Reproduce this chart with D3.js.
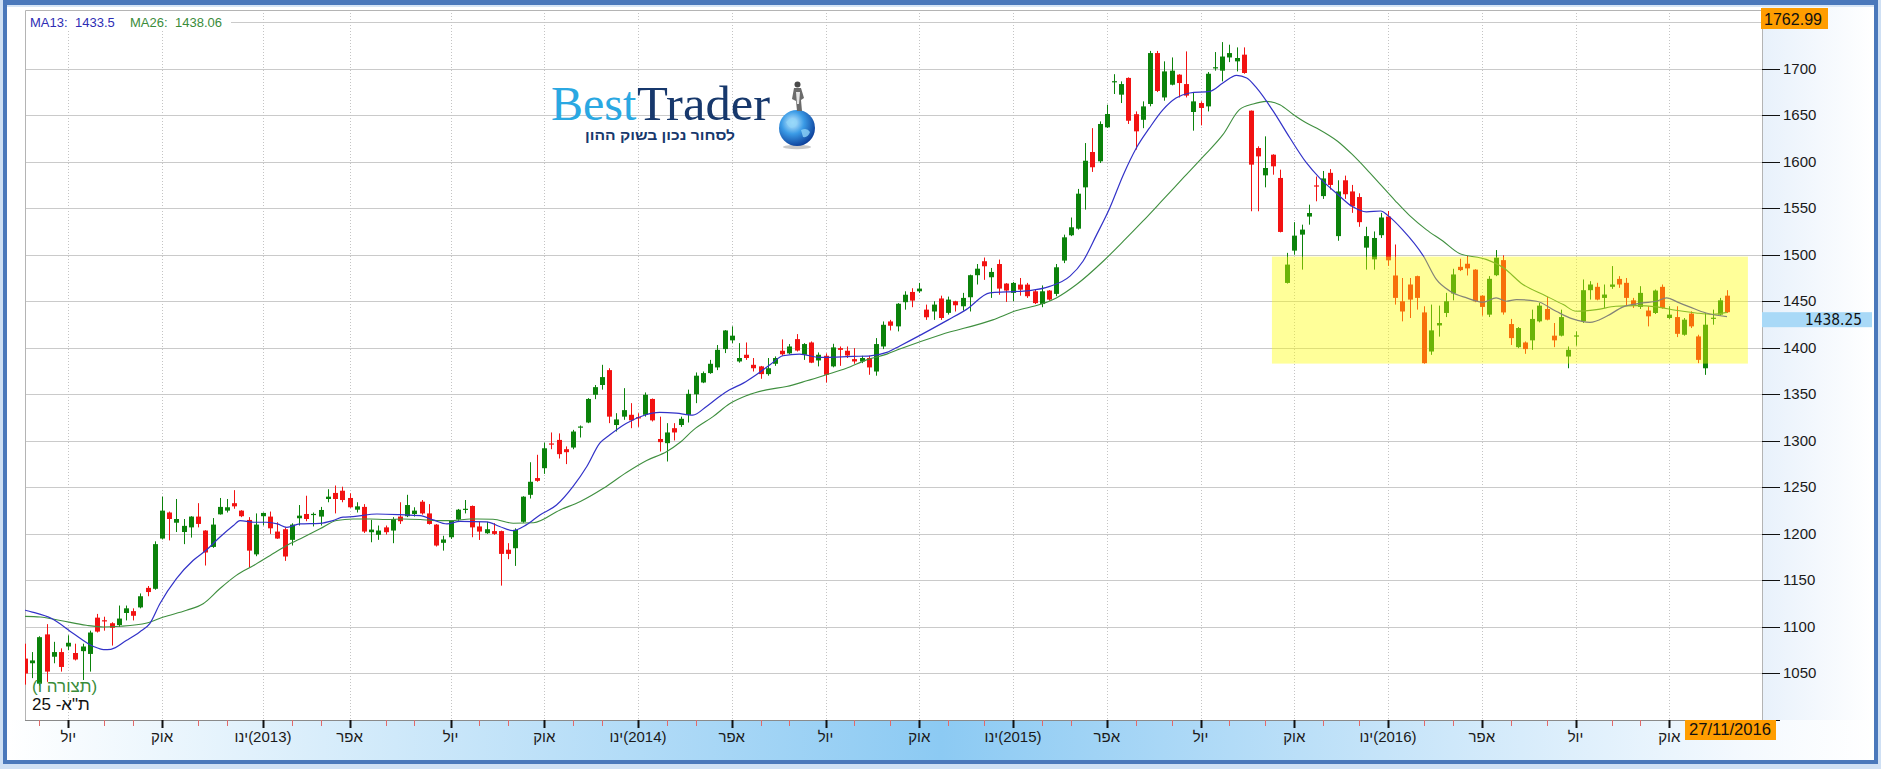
<!DOCTYPE html>
<html><head><meta charset="utf-8">
<script src="https://cdn.jsdelivr.net/npm/d3@7"></script>
<style>
html,body{margin:0;padding:0;background:#fff;}
svg{display:block;}
text{font-family:"Liberation Sans",Arial,sans-serif;}
.narrow{font-family:"Liberation Sans Narrow","Arial Narrow","Liberation Sans",sans-serif;}
.serif{font-family:"Liberation Serif","Times New Roman",serif;}
.dejavu{font-family:"DejaVu Sans",sans-serif;}
.visual{unicode-bidi:bidi-override;direction:ltr;}
</style></head><body>
<svg id="chart" width="1881" height="769"></svg>
<script>
// ---------------- DATA ----------------
const firstWeek = [2012, 4, 20];       // Sunday 20/05/2012, weekly candles
const lastDateLabel = "27/11/2016";
const topValue = 1762.99;
const lastClose = 1438.25;
const ma13Label = "1433.5";
const ma26Label = "1438.06";
// written in visual (left-to-right) glyph order, drawn with bidi override
const instrumentVisual = "25 -א\"ת";
const formationVisual = "(ו הרוצת)";

// weekly candles [open, high, low, close]
const ohlc = [
 [1066,1082,1038,1050],[1061,1073,1045,1064],[1039,1090,1037,1089],[1092,1103,1041,1052],[1068,1084,1061,1073],
 [1073,1077,1052,1057],[1079,1091,1075,1083],[1072,1082,1064,1065],[1074,1082,1043,1079],[1071,1096,1052,1094],
 [1110,1114,1094,1095],[1107.2,1111,1096,1106.8],[1104,1105,1080,1099],[1102,1123,1100,1109],[1115,1123,1107,1120],
 [1117,1120,1107,1112],[1121,1136,1120,1133],[1142,1144,1133,1137.5],[1141,1192,1140,1189],[1195,1240,1194,1225],
 [1223,1224,1193,1216],[1212,1237.5,1202,1216],[1202,1216,1189,1208.6],[1207,1219,1196,1218.6],[1218.6,1233,1207,1210.7],
 [1203.6,1204,1166,1180],[1186,1217,1185,1210],[1221,1238.6,1220.7,1229],[1225,1237.5,1223,1228.6],[1233,1247,1227,1229.6],
 [1225,1225.5,1218,1219],[1215,1218,1164,1182],[1178,1222,1176,1210],[1219,1223,1209,1222.5],[1218.6,1224,1200,1206],
 [1202.5,1212.5,1194.6,1195],[1205,1207,1171,1175.7],[1193.6,1211.4,1187.5,1210],[1216.8,1231,1209,1219.6],[1221.4,1241,1213.6,1216],
 [1221,1223,1208,1221.5],[1218.6,1229,1209,1225.7],[1237.5,1248,1234,1240],[1244,1252,1222,1237.5],[1246.4,1250.7,1234,1236.4],
 [1238.6,1243.6,1228,1228.6],[1226,1234,1223,1229.6],[1229,1232,1201,1202.5],[1201.8,1215,1191,1204.6],[1199,1209,1193.6,1203.6],
 [1207,1209,1199.3,1201.8],[1203.6,1218,1190,1216],[1218.6,1234,1210.7,1213.6],[1219,1242,1218,1231],[1221.4,1228.6,1218.6,1225],
 [1234.6,1236.4,1220.7,1222],[1222,1232,1210,1210.7],[1210,1210.5,1186.4,1187.5],[1190.4,1198,1182,1194],[1196.4,1214.5,1194.6,1214.3],
 [1215.4,1226.8,1214,1226],[1226.8,1236.4,1222,1227],[1230,1230.5,1196.4,1207],[1208,1213,1193.5,1202.5],[1200.7,1213,1200,1205],
 [1203,1211.5,1199,1200],[1203,1203.5,1144.4,1178.5],[1183,1190,1172.8,1178.5],[1184.6,1206,1165.6,1204.3],[1213,1240.5,1212,1240],
 [1242,1277,1238,1256],[1260,1285,1256,1257],[1270.6,1298,1264.5,1292],[1297.2,1309,1291,1296.8],[1301,1308,1281,1285.7],
 [1291,1294,1275,1287.8],[1292.8,1311.8,1291,1310],[1315,1316.5,1303.6,1315.4],[1319.7,1345.9,1319,1345],[1349.5,1360,1344.8,1357.7],
 [1360,1381.7,1355,1368.5],[1376,1378,1319,1326],[1317,1329.7,1310,1323],[1326,1356.6,1322.6,1333],[1328,1340.5,1313.6,1322],
 [1325.4,1329.7,1315,1325],[1328,1352,1326,1349.5],[1345,1345.5,1320.8,1322],[1302,1326,1288.5,1298.6],[1297.5,1319,1277.8,1309],
 [1313.6,1319,1300.4,1309],[1317,1326,1315,1323.7],[1328,1355,1319.7,1350.5],[1350,1373.5,1340.5,1370],[1362.7,1374.5,1362,1372.8],
 [1372.8,1387,1372,1382.8],[1378.9,1403,1376,1397.8],[1398.6,1419,1394.3,1418.6],[1408,1423,1405,1413],[1385.3,1405,1384,1389],
 [1392.5,1405.7,1387,1389],[1381.7,1389,1374.5,1378],[1380,1380.5,1366.7,1371.7],[1371.7,1389,1370,1378],[1382.8,1390.7,1380.6,1389],
 [1396.8,1409,1391.4,1393],[1394,1404,1393,1401.4],[1409.3,1414.7,1396,1397],[1392.5,1405,1387,1404],[1405.7,1406.8,1383.5,1384],
 [1386.4,1395,1380,1392.5],[1391.4,1394,1362.7,1371],[1380,1404.3,1379,1400.4],[1399.6,1401.4,1380.6,1397.8],[1396.8,1401.4,1389,1391.7],
 [1387.8,1399.6,1382.8,1385.3],[1385.3,1391.4,1383.5,1389],[1389,1391.4,1371,1378.9],[1374.5,1410.4,1370,1404],[1401.4,1428.3,1398.6,1424.7],
 [1428.3,1430,1418.6,1423.7],[1423,1448,1417.6,1447.3],[1449,1460.7,1441,1457],[1460,1464,1443.6,1450.7],[1460.7,1469.7,1459,1463.6],
 [1441,1446.4,1430,1432.8],[1439,1450,1430,1446.4],[1453,1456,1430,1432],[1437.5,1455,1435.7,1451.8],[1450,1450.5,1439,1445.7],
 [1444.6,1459,1440,1453.6],[1454.3,1478.6,1439,1478],[1478,1490,1468,1485],[1493,1497,1473,1487.6],[1475.8,1485.8,1453.6,1481.5],
 [1490,1494.8,1457,1463.6],[1469,1469.5,1449.3,1461.5],[1459,1470.8,1450,1469.7],[1467.9,1475,1456,1462.5],[1467.9,1469.7,1453.6,1455.4],
 [1460.7,1462.5,1447,1448],[1447,1467,1443.6,1460.7],[1461.5,1462,1450.7,1451.8],[1457.9,1490,1455.4,1486.5],[1493.7,1521.6,1491,1518.7],
 [1520.9,1540,1520,1529.5],[1528,1570.7,1527,1565.6],[1572.4,1620,1548.5,1601],[1610.4,1636,1589,1594],[1600.4,1643.3,1598.6,1640.5],
 [1636.9,1661.2,1636.2,1651.2],[1686,1694,1672.7,1686.5],[1672,1686.3,1663,1683.4],[1690,1690.6,1640.5,1644],[1651,1654,1613,1632.6],
 [1645,1664.8,1636,1659.4],[1662,1719,1659.5,1716.7],[1716.7,1719,1674.8,1676],[1669,1707.8,1665.5,1697],[1682.7,1712,1682,1697.8],
 [1693.5,1694,1669,1684.5],[1683.4,1718.5,1669,1671],[1653.4,1674.8,1633.3,1664.8],[1663,1664.8,1639,1657.7],[1659.4,1696.3,1654,1694.5],
 [1701.3,1717.8,1697.8,1701.5],[1697.8,1728.5,1686.3,1713],[1712,1725.7,1707,1716.7],[1707.8,1722.8,1697,1711.4],[1715,1722.8,1694.5,1695.3],
 [1654.8,1655,1546.7,1596.8],[1614.7,1616.5,1546.7,1605.7],[1585.3,1627.2,1572.4,1593.2],[1607.5,1608,1586,1595],[1582.5,1591.4,1524,1524.5],
 [1469.7,1502,1469,1489.4],[1504.4,1535,1500,1520.5],[1521.6,1532.3,1484,1527],[1541,1553.8,1532.3,1544.8],[1574.5,1584,1557.4,1573.5],
 [1563,1590,1560,1582],[1588,1592,1570,1575],[1520,1580,1515,1568],[1580,1585,1560,1565],[1568,1575,1545,1552],
 [1562,1566,1530,1535],[1507.6,1530,1484,1520],[1495,1525,1484,1518],[1521,1545,1518,1540],[1541,1547,1488,1494],
 [1477.7,1511,1446.4,1453.6],[1450,1475,1428.4,1439],[1468,1475,1432,1451.8],[1477,1477.5,1441,1453.6],[1438,1444.6,1383,1383.5],
 [1396,1446.4,1392.4,1418.7],[1424,1445.3,1412,1426.6],[1437.4,1459,1433,1450],[1458.3,1484.9,1451,1478.8],[1487,1495.7,1482.4,1483.5],
 [1490.3,1498.6,1477.7,1485.3],[1484,1484.5,1449,1450],[1456,1456.5,1434.5,1443.9],[1435.6,1477,1433,1474.1],[1478,1505,1477,1496.8],
 [1494.2,1499.3,1435.6,1438],[1425.5,1431,1403,1410.4],[1400.7,1422.3,1399.6,1421.2],[1405.7,1406.8,1393.5,1398.6],[1408,1441,1397.8,1431],
 [1428.4,1448.2,1427.3,1445.3],[1441.7,1454.7,1429.5,1430.2],[1413,1426.6,1400.7,1408],[1413,1441,1412.2,1433],[1390.6,1401.4,1378,1397.8],
 [1413,1417.6,1402.2,1413.3],[1428.4,1473.4,1426.6,1461.9],[1461.9,1471.6,1451.8,1468],[1465.5,1469.8,1451,1451.8],[1453.6,1468,1442.8,1457.2],
 [1465.5,1487.8,1463.3,1468],[1474,1477,1464.4,1468],[1469.8,1475,1445.3,1453.6],[1451,1453.6,1442.8,1445.3],[1443.9,1466.2,1441.7,1459],
 [1440,1444.6,1423,1433.8],[1437.4,1462.6,1436.3,1461.5],[1465.5,1468,1442,1442.8],[1432,1444.6,1431,1435.6],[1433,1444.6,1411.5,1415],
 [1414,1432,1413,1430.2],[1436.7,1439.2,1421.2,1423],[1412.2,1414,1383.5,1387],[1378,1437.4,1370.9,1424.8],[1432,1441,1424.8,1432.3],
 [1435.6,1453.6,1434.5,1451],[1456,1461.9,1437.4,1438.25]
];

// moving averages: [week index, value]
const ma13 = [[0,1118],[1,1116],[3.7,1109],[6.7,1093],[9.5,1079],[10.9,1075.7],[11.9,1076],[14.1,1085.7],[15.9,1094.6],[17.3,1103.6],
 [18.7,1125],[21,1152],[23.3,1171.4],[25.2,1183],[27,1196.4],[28.9,1209],[29.8,1214.3],[31.7,1212.5],[33.5,1212.5],[35,1210.7],
 [36.3,1207],[38.1,1210.7],[40.9,1211.4],[42.7,1214.3],[44.1,1218],[45.5,1218.6],[48.8,1221.4],[52,1220.7],[54.8,1219.6],[56.6,1215],
 [58.5,1210.7],[60.3,1213.5],[64,1213],[65.8,1208],[67.6,1203.6],[69.5,1209.7],[71.4,1220.4],[73.7,1231],[76,1251],[77.9,1272.4],
 [79.7,1297.5],[81.1,1306.5],[83.4,1319],[85.7,1327],[88,1330.5],[90.3,1329.7],[92.6,1327.6],[94.5,1337],[96.3,1347.7],[97.7,1354.8],
 [99.6,1362],[101.4,1371],[103.3,1381.7],[105.1,1391.4],[107.4,1393.2],[110.2,1389.6],[112.5,1390],[114.8,1390.7],[117.2,1391.4],[119.5,1395],
 [121.3,1402],[128,1430],[130.5,1441],[133.8,1459],[136.1,1460],[139.3,1461.5],[142.1,1466],[144.9,1477],[146.7,1493],[148.6,1521.6],
 [150.4,1550],[152.3,1586],[154.1,1614.7],[155.9,1636],[157.8,1655.9],[159.6,1668.4],[161.5,1673.8],[164.3,1675.6],[166.1,1684.5],[168,1692.8],
 [169.4,1690],[170.8,1679],[173.1,1654],[175.4,1625.4],[177.7,1598.6],[179.5,1582.5],[182,1565],[184,1552],[186,1546],[188,1547],
 [189,1542],[191,1527],[193.9,1498.6],[195.7,1473.4],[197.6,1460.8],[199.9,1453.6],[202.2,1449],[204,1453.6],[205.4,1450],[206.8,1451.8],
 [209.6,1450],[212.3,1439.2],[214.6,1431],[217,1427.3],[219.3,1433.8],[221.6,1444],[224.3,1448.2],[226.2,1450],[227.6,1453.6],[229.4,1448.2],
 [230.8,1444],[233.1,1437.4],[236,1433.5]];
const ma26 = [[0,1111.4],[2.1,1110.7],[4.9,1107],[8.5,1101.8],[10.9,1100],[13.2,1100.7],[16.9,1104.3],[19.2,1110.7],[22.4,1117.9],[24.7,1125],
 [27,1141],[29.3,1155.4],[31.7,1166],[34,1176.8],[36.3,1187.5],[38.6,1196.4],[40.9,1205.4],[43.2,1214.3],[45.5,1216],[47.8,1216],
 [50.1,1215.4],[52.4,1216],[54.8,1215.4],[57,1214.3],[59.4,1214.3],[61.7,1216],[64.9,1215.8],[67.7,1211.5],[70.5,1212],[74.2,1225.8],
 [77,1234.8],[80.2,1249],[83.4,1266],[86.2,1278.9],[89,1288.5],[90.8,1298.2],[92.7,1311.8],[95.4,1326],[97.7,1339.8],[100,1348.4],
 [102.8,1354.8],[105.6,1358.4],[108.4,1364.5],[111.1,1371],[113.9,1378],[116.7,1387],[119.5,1393.2],[121.3,1398.6],[127,1414],[134.2,1430],
 [137.5,1440],[140.7,1446.4],[143,1453.6],[145.8,1468],[149.5,1493],[152.3,1514.5],[155,1536],[157.8,1559.2],[160.6,1582.5],[163.4,1605.7],
 [166.1,1629],[168.4,1655.9],[170.3,1662],[172.1,1664.8],[174,1661.2],[175.9,1650.5],[177.7,1641.5],[179.5,1634.4],[182,1622],[184,1608],
 [186,1592],[188,1575],[190,1558],[192,1542],[194.3,1527],[196.6,1514.7],[198.9,1501.4],[202.6,1495],[205,1486],[207.7,1468],
 [210.5,1457.2],[213.3,1446.4],[215.1,1439.2],[217.9,1441],[220.6,1444.6],[223.4,1445.3],[226.2,1444],[228.9,1440.3],[231.7,1437.4],[234,1436],
 [236,1438.06]];

const priceTicks = d3.range(1000, 1751, 50);
const priceLabels = [1050,1100,1150,1200,1250,1300,1350,1400,1450,1500,1550,1600,1650,1700];
const quarterIdx = [6,19,33,45,59,72,85,98,111,124,137,150,163,176,189,202,215,228];
const quarterLabels = ["יול","אוק","ינו\u200E(2013)","אפר","יול","אוק","ינו\u200E(2014)","אפר","יול","אוק",
 "ינו\u200E(2015)","אפר","יול","אוק","ינו\u200E(2016)","אפר","יול","אוק"];
const zoneIdx = [172.9, 238.9];
const zoneVal = [1383, 1498];

// ---------------- LAYOUT ----------------
const W = 1881, H = 769, PL = 25, PR = 1762, PT = 10, PB = 720;
const x = d3.scaleLinear().domain([0, ohlc.length - 1]).range([25, 1727]);
const y = d3.scaleLinear().domain([1000, topValue]).range([PB, PT]);
const GREEN = "#0b820b", RED = "#f21212";

const svg = d3.select("#chart");
const defs = svg.append("defs");
const gb = defs.append("linearGradient").attr("id", "gBottom").attr("x1", 0).attr("x2", 1).attr("y1", 0).attr("y2", 0);
[[0, "#ffffff"], [0.5, "#8ccaf3"], [0.93, "#f4f9fe"], [1, "#ffffff"]].forEach(s => gb.append("stop").attr("offset", s[0]).attr("stop-color", s[1]));
const gr = defs.append("linearGradient").attr("id", "gRight").attr("x1", 0).attr("x2", 1).attr("y1", 0).attr("y2", 0);
[[0, "#e8f1fb"], [1, "#ffffff"]].forEach(s => gr.append("stop").attr("offset", s[0]).attr("stop-color", s[1]));
const gg = defs.append("radialGradient").attr("id", "gGlobe").attr("cx", 0.38).attr("cy", 0.35).attr("r", 0.7);
[[0, "#c8eeff"], [0.45, "#3b9be6"], [1, "#0a3a96"]].forEach(s => gg.append("stop").attr("offset", s[0]).attr("stop-color", s[1]));
defs.append("clipPath").attr("id", "plotClip").append("rect").attr("x", PL).attr("y", PT).attr("width", PR - PL).attr("height", PB - PT);

// frame
svg.append("rect").attr("width", W).attr("height", H).attr("fill", "#cfe0f4");
svg.append("rect").attr("x", 3).attr("y", 0).attr("width", 1875).attr("height", 764).attr("fill", "#4a78bb");
svg.append("rect").attr("x", 7).attr("y", 5).attr("width", 1867).attr("height", 2).attr("fill", "#d6e5f6");
svg.append("rect").attr("x", 7).attr("y", 7).attr("width", 1867).attr("height", 753).attr("fill", "#ffffff");
svg.append("rect").attr("x", 7).attr("y", PB).attr("width", 1867).attr("height", 40).attr("fill", "url(#gBottom)");
svg.append("rect").attr("x", PR).attr("y", 7).attr("width", 1874 - PR).attr("height", PB - 7).attr("fill", "url(#gRight)");
svg.append("rect").attr("x", PL).attr("y", PT).attr("width", PR - PL).attr("height", PB - PT).attr("fill", "#ffffff");

// horizontal grid
svg.append("g").selectAll("line").data(priceTicks.filter(v => v > 1000)).join("line")
  .attr("x1", PL).attr("x2", PR).attr("y1", d => Math.round(y(d)) + 0.5).attr("y2", d => Math.round(y(d)) + 0.5)
  .attr("stroke", "#cacaca").attr("stroke-width", 1);
// vertical dotted grid
svg.append("g").selectAll("line").data(quarterIdx).join("line")
  .attr("x1", d => Math.round(x(d)) + 0.5).attr("x2", d => Math.round(x(d)) + 0.5).attr("y1", PT).attr("y2", PB)
  .attr("stroke", "#c4c4c4").attr("stroke-dasharray", "1,2");

// plot border
svg.append("path").attr("d", `M${PL + 0.5},${PB}V${PT + 0.5}H${PR + 0.5}V${PB}`).attr("fill", "none").attr("stroke", "#b4b4b4");

// candles
const plot = svg.append("g").attr("clip-path", "url(#plotClip)");
const candles = ohlc.map((d, i) => ({ i, o: d[0], h: d[1], l: d[2], c: d[3] }));
const cg = plot.append("g");
cg.selectAll("line").data(candles).join("line")
  .attr("x1", d => Math.round(x(d.i)) + 0.5).attr("x2", d => Math.round(x(d.i)) + 0.5)
  .attr("y1", d => y(d.h)).attr("y2", d => y(d.l))
  .attr("stroke", d => d.c >= d.o ? GREEN : RED).attr("stroke-width", 1);
cg.selectAll("rect").data(candles).join("rect")
  .attr("x", d => Math.round(x(d.i)) - 2).attr("width", 5)
  .attr("y", d => y(Math.max(d.o, d.c)))
  .attr("height", d => Math.max(1.2, Math.abs(y(d.o) - y(d.c))))
  .attr("fill", d => d.c >= d.o ? GREEN : RED);

// moving averages
const line = d3.line().x(d => x(d[0])).y(d => y(d[1])).curve(d3.curveMonotoneX);
plot.append("path").datum(ma26).attr("d", line).attr("fill", "none").attr("stroke", "#3f8f3f").attr("stroke-width", 1.1);
plot.append("path").datum(ma13).attr("d", line).attr("fill", "none").attr("stroke", "#3232c8").attr("stroke-width", 1.2);

// highlight zone
svg.append("rect").attr("x", x(zoneIdx[0])).attr("width", x(zoneIdx[1]) - x(zoneIdx[0]))
  .attr("y", y(zoneVal[1])).attr("height", y(zoneVal[0]) - y(zoneVal[1]))
  .attr("fill", "#ffff00").attr("opacity", 0.4);

// bottom axis
svg.append("line").attr("x1", PL).attr("x2", PR + 18).attr("y1", PB + 0.5).attr("y2", PB + 0.5).attr("stroke", "#8a8a8a");
const dateOf = i => new Date(firstWeek[0], firstWeek[1], firstWeek[2] + 7 * i);
const monthStarts = d3.range(1, ohlc.length).filter(i => dateOf(i).getMonth() !== dateOf(i - 1).getMonth());
const minorIdx = monthStarts.filter(i => !quarterIdx.some(q => Math.abs(q - i) <= 1));
svg.append("g").selectAll("line").data(minorIdx).join("line")
  .attr("x1", d => Math.round(x(d)) + 0.5).attr("x2", d => Math.round(x(d)) + 0.5).attr("y1", PB).attr("y2", PB + 6)
  .attr("stroke", "#e06a6a");
svg.append("g").selectAll("line").data(quarterIdx).join("line")
  .attr("x1", d => Math.round(x(d)) + 0.5).attr("x2", d => Math.round(x(d)) + 0.5).attr("y1", PB).attr("y2", PB + 8)
  .attr("stroke", "#111").attr("stroke-width", 2);
svg.append("g").selectAll("text").data(quarterIdx).join("text").attr("class", "narrow")
  .attr("x", d => x(d)).attr("y", 742).attr("text-anchor", "middle").attr("font-size", 15).attr("fill", "#1a1a1a")
  .text((d, k) => quarterLabels[k]);

// right axis
svg.append("g").selectAll("line").data(priceTicks).join("line")
  .attr("x1", PR).attr("x2", 1780).attr("y1", d => Math.round(y(d)) + 0.5).attr("y2", d => Math.round(y(d)) + 0.5)
  .attr("stroke", "#111");
svg.append("g").selectAll("text").data(priceLabels).join("text").attr("class", "narrow")
  .attr("x", 1783).attr("y", d => y(d) + 5).attr("font-size", 15).attr("fill", "#1a1a1a").text(d => d);

// top value box
svg.append("rect").attr("x", 1761).attr("y", 8).attr("width", 67).attr("height", 21).attr("fill", "#ff9d00");
svg.append("text").attr("x", 1764).attr("y", 25).attr("font-size", 17).attr("fill", "#111")
  .attr("textLength", 58).attr("lengthAdjust", "spacingAndGlyphs").text(topValue);
// last price box
svg.append("rect").attr("x", PR).attr("y", y(lastClose)).attr("width", 110).attr("height", 15).attr("fill", "#a9d9f7");
svg.append("text").attr("class", "dejavu").attr("x", 1862).attr("y", y(lastClose) + 13).attr("text-anchor", "end")
  .attr("font-size", 16).attr("fill", "#111")
  .attr("textLength", 57).attr("lengthAdjust", "spacingAndGlyphs").text(lastClose);
// last date box
svg.append("rect").attr("x", 1685).attr("y", PB).attr("width", 91).attr("height", 20).attr("fill", "#ff9d00");
svg.append("text").attr("x", 1689).attr("y", 735).attr("font-size", 16).attr("fill", "#111")
  .attr("textLength", 82).attr("lengthAdjust", "spacingAndGlyphs").text(lastDateLabel);

// MA legend
svg.append("rect").attr("x", 26).attr("y", 12).attr("width", 205).attr("height", 18).attr("fill", "#ffffff");
const leg = [[30, "MA13:", "#2d2db4"], [75, ma13Label, "#2d2db4"], [130, "MA26:", "#3a8c3a"], [175, ma26Label, "#3a8c3a"]];
svg.append("g").selectAll("text").data(leg).join("text")
  .attr("x", d => d[0]).attr("y", 27).attr("font-size", 13).attr("fill", d => d[2]).text(d => d[1]);

// bottom-left labels
svg.append("text").attr("class", "visual").attr("x", 32).attr("y", 692).attr("font-size", 17).attr("fill", "#3a8c3a").text(formationVisual);
svg.append("text").attr("class", "visual").attr("x", 32).attr("y", 710).attr("font-size", 17).attr("fill", "#111").text(instrumentVisual);

// logo
const logo = svg.append("g");
logo.append("text").attr("class", "serif").attr("x", 551).attr("y", 120).attr("fill", "#2aa8e2")
  .attr("font-size", 48).text("Best");
logo.append("text").attr("class", "serif").attr("x", 637).attr("y", 120).attr("fill", "#17386c")
  .attr("font-size", 48).attr("textLength", 133).attr("lengthAdjust", "spacingAndGlyphs").text("Trader");
logo.append("text").attr("x", 660).attr("y", 140).attr("text-anchor", "middle").attr("font-weight", "bold")
  .attr("font-size", 14).attr("fill", "#17386c").attr("textLength", 150).attr("lengthAdjust", "spacingAndGlyphs")
  .text("לסחור נכון בשוק ההון");
logo.append("ellipse").attr("cx", 797).attr("cy", 147).attr("rx", 14).attr("ry", 2.2).attr("fill", "#c9c9c9");
logo.append("circle").attr("cx", 797).attr("cy", 128).attr("r", 18).attr("fill", "url(#gGlobe)");
logo.append("path").attr("d", "M786,122 q5,-6 10,-2 q3,4 -2,7 q-4,3 -8,-5z M801,130 q6,-3 9,2 q-2,6 -7,5z")
  .attr("fill", "#8fd3f7").attr("opacity", 0.8);
logo.append("path").attr("d", "M794,88 L801,88 L804,98 L801,100 L802,111 L797,111 L796,101 L792,99 Z").attr("fill", "#6b6b6b");
logo.append("circle").attr("cx", 797.5).attr("cy", 84.5).attr("r", 3).attr("fill", "#4a4a4a");
logo.append("path").attr("d", "M796,92 L800,92 L799,104 L797,104 Z").attr("fill", "#e4e4e4");
</script></body></html>
